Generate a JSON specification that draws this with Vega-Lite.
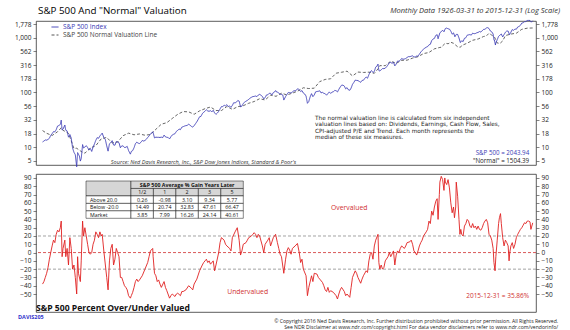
{
"$schema": "https://vega.github.io/schema/vega-lite/v6.json",
"background": "white",
"padding": {"left": 14, "top": 5, "right": 5, "bottom": 2},
"bounds": "flush",
"spacing": 9,
"config": {
 "font": "Open Sans",
 "view": {"stroke": "#333333", "strokeWidth": 0.8},
 "axis": {"labelFont": "Open Sans", "labelFontSize": 6.5, "labelColor": "#222222", "tickColor": "#333333", "tickWidth": 0.6, "domain": false, "grid": false},
 "text": {"font": "Open Sans"}
},
"resolve": {"scale": {"x": "independent", "y": "independent", "color": "independent", "strokeDash": "independent"}},
"vconcat": [
 {
  "width": 500, "height": 144,
  "resolve": {"axis": {"y": "independent"}},
  "layer": [
   {"data": {"name": "top"}, "transform": [{"filter": "datum.s == 'n'"}],
    "mark": {"type": "line", "strokeWidth": 0.9},
    "encoding": {
     "x": {"field": "t", "type": "quantitative", "scale": {"domain": [1925.05, 2016.6], "nice": false, "zero": false},
       "axis": {"title": null, "values": [1926,1927,1928,1929,1930,1931,1932,1933,1934,1935,1936,1937,1938,1939,1940,1941,1942,1943,1944,1945,1946,1947,1948,1949,1950,1951,1952,1953,1954,1955,1956,1957,1958,1959,1960,1961,1962,1963,1964,1965,1966,1967,1968,1969,1970,1971,1972,1973,1974,1975,1976,1977,1978,1979,1980,1981,1982,1983,1984,1985,1986,1987,1988,1989,1990,1991,1992,1993,1994,1995,1996,1997,1998,1999,2000,2001,2002,2003,2004,2005,2006,2007,2008,2009,2010,2011,2012,2013,2014,2015,2016],
        "labelExpr": "datum.value % 5 == 0 ? format(datum.value, 'd') : ''", "tickSize": 2, "labelPadding": 0, "labelOverlap": false, "labelFlush": false}},
     "y": {"field": "v", "type": "quantitative", "scale": {"type": "log", "domain": [4.75, 2017], "nice": false},
       "axis": {"orient": "left", "title": null, "values": [5.623, 10, 17.78, 31.62, 56.23, 100, 177.8, 316.2, 562.3, 1000, 1778], "labelExpr": "datum.value < 6 ? '5' : format(datum.value, ',.0f')", "tickSize": 3, "labelPadding": 2}},
     "color": {"field": "s", "type": "nominal", "scale": {"domain": ["i", "n"], "range": ["#3b3bb5", "#555555"]},
       "legend": {"title": null, "orient": "none", "legendX": 15, "legendY": 2, "symbolType": "stroke", "symbolSize": 49, "symbolStrokeWidth": 1, "labelFontSize": 6.5, "labelFont": "Open Sans", "rowPadding": 0, "padding": 0, "labelOffset": 4, "labelExpr": "datum.value == 'i' ? 'S&P 500 Index' : 'S&P 500 Normal Valuation Line'", "encode": {"labels": {"update": {"fill": {"signal": "datum.value == 'i' ? '#3b3bb5' : '#444444'"}}}}}},
     "strokeDash": {"field": "s", "type": "nominal", "scale": {"domain": ["i", "n"], "range": [[1, 0], [3, 2]]},
       "legend": {"title": null, "orient": "none", "legendX": 15, "legendY": 2, "symbolType": "stroke", "symbolSize": 49, "symbolStrokeWidth": 1, "labelFontSize": 6.5, "labelFont": "Open Sans", "rowPadding": 0, "padding": 0, "labelOffset": 4, "labelExpr": "datum.value == 'i' ? 'S&P 500 Index' : 'S&P 500 Normal Valuation Line'", "encode": {"labels": {"update": {"fill": {"signal": "datum.value == 'i' ? '#3b3bb5' : '#444444'"}}}}}}
    }},
   {"data": {"name": "top"}, "transform": [{"filter": "datum.s == 'i'"}],
    "mark": {"type": "line", "strokeWidth": 0.9},
    "encoding": {
     "x": {"field": "t", "type": "quantitative", "scale": {"domain": [1925.05, 2016.6], "nice": false, "zero": false}, "axis": null},
     "y": {"field": "v", "type": "quantitative", "scale": {"type": "log", "domain": [4.75, 2017], "nice": false},
       "axis": {"orient": "right", "title": null, "values": [5.623, 10, 17.78, 31.62, 56.23, 100, 177.8, 316.2, 562.3, 1000, 1778], "labelExpr": "datum.value < 6 ? '5' : format(datum.value, ',.0f')", "tickSize": 3, "labelPadding": 2}},
     "color": {"field": "s", "type": "nominal", "scale": {"domain": ["i", "n"], "range": ["#3b3bb5", "#555555"]}},
     "strokeDash": {"field": "s", "type": "nominal", "scale": {"domain": ["i", "n"], "range": [[1, 0], [3, 2]]}}
    }},
   {"data": {"values": [{}]}, "mark": {"type": "text", "align": "left", "baseline": "middle", "fontSize": 9.8, "color": "#000000"},
    "encoding": {"x": {"datum": 1925.42, "type": "quantitative", "axis": null}, "y": {"datum": 3070, "type": "quantitative", "axis": null}, "text": {"value": "S&P 500 And \"Normal\" Valuation"}}},
   {"data": {"values": [{}]}, "mark": {"type": "text", "align": "right", "baseline": "middle", "fontSize": 7.5, "fontStyle": "italic", "color": "#333333"},
    "encoding": {"x": {"datum": 2021.0, "type": "quantitative", "axis": null}, "y": {"datum": 3070, "type": "quantitative", "axis": null}, "text": {"value": "Monthly Data 1926-03-31 to 2015-12-31 (Log Scale)"}}},
   {"data": {"values": [{}]}, "mark": {"type": "text", "align": "right", "baseline": "middle", "fontSize": 5.6, "fontStyle": "italic", "color": "#333333"},
    "encoding": {"x": {"datum": 1972.67, "type": "quantitative", "axis": null}, "y": {"datum": 5.5, "type": "quantitative", "axis": null}, "text": {"value": "Source: Ned Davis Research, Inc., S&P Dow Jones Indices, Standard & Poor's"}}},
   {"data": {"values": [{}]}, "mark": {"type": "text", "align": "left", "baseline": "top", "font": "DejaVu Sans", "fontSize": 5.75, "lineHeight": 6.2, "color": "#222222"},
    "encoding": {"x": {"datum": 1976.15, "type": "quantitative", "axis": null}, "y": {"datum": 38.4, "type": "quantitative", "axis": null}, "text": {"value": ["The normal valuation line is calculated  from six independent", "valuation lines based on: Dividends, Earnings, Cash Flow, Sales,", "CPI-adjusted P/E  and  Trend.  Each  month  represents  the", "median of these six measures."]}}},
   {"data": {"values": [{}]}, "mark": {"type": "text", "align": "right", "baseline": "middle", "fontSize": 6.2, "color": "#3b3bb5"},
    "encoding": {"x": {"datum": 2015.35, "type": "quantitative", "axis": null}, "y": {"datum": 7.71, "type": "quantitative", "axis": null}, "text": {"value": "S&P 500 = 2043.94"}}},
   {"data": {"values": [{}]}, "mark": {"type": "text", "align": "right", "baseline": "middle", "fontSize": 6.2, "color": "#222222"},
    "encoding": {"x": {"datum": 2015.35, "type": "quantitative", "axis": null}, "y": {"datum": 5.6, "type": "quantitative", "axis": null}, "text": {"value": "\"Normal\" = 1504.39"}}}
  ]
 },
 {
  "width": 500, "height": 138,
  "resolve": {"scale": {"x": "independent", "y": "independent"}},
  "layer": [
   {"resolve": {"axis": {"y": "independent"}},
    "layer": [
     {"data": {"name": "lvl"}, "mark": {"type": "rule", "strokeDash": [3, 2], "strokeWidth": 0.8},
      "encoding": {
       "y": {"field": "v", "type": "quantitative", "scale": {"domain": [-71.7, 94.8], "nice": false, "zero": false},
         "axis": {"orient": "left", "title": null, "values": [-50,-40,-30,-20,-10,0,10,20,30,40,50,60,70,80,90], "tickSize": 3, "labelPadding": 2}},
       "stroke": {"condition": {"test": "datum.z == 1", "value": "#d03030"}, "value": "#8c8c8c"}
      }},
     {"data": {"name": "pct"}, "mark": {"type": "line", "color": "#e02020", "strokeWidth": 0.9},
      "encoding": {
       "x": {"field": "t", "type": "quantitative", "scale": {"domain": [1925.05, 2016.6], "nice": false, "zero": false}, "axis": null},
       "y": {"field": "v", "type": "quantitative", "scale": {"domain": [-71.7, 94.8], "nice": false, "zero": false},
         "axis": {"orient": "right", "title": null, "values": [-50,-40,-30,-20,-10,0,10,20,30,40,50,60,70,80,90], "tickSize": 3, "labelPadding": 2}}
      }},
     {"data": {"values": [{}]}, "mark": {"type": "text", "align": "left", "baseline": "middle", "fontSize": 8.6, "fontWeight": "bold", "color": "#111111"},
      "encoding": {"x": {"datum": 1925.05, "type": "quantitative", "axis": null}, "y": {"datum": -66.9, "type": "quantitative", "axis": null}, "text": {"value": "S&P 500 Percent Over/Under Valued"}}},
     {"data": {"values": [{}]}, "mark": {"type": "text", "align": "center", "baseline": "middle", "fontSize": 6.8, "color": "#d03030"},
      "encoding": {"x": {"datum": 1982.4, "type": "quantitative", "axis": null}, "y": {"datum": 53.8, "type": "quantitative", "axis": null}, "text": {"value": "Overvalued"}}},
     {"data": {"values": [{}]}, "mark": {"type": "text", "align": "center", "baseline": "middle", "fontSize": 6.8, "color": "#d03030"},
      "encoding": {"x": {"datum": 1963.8, "type": "quantitative", "axis": null}, "y": {"datum": -47.2, "type": "quantitative", "axis": null}, "text": {"value": "Undervalued"}}},
     {"data": {"values": [{}]}, "mark": {"type": "text", "align": "right", "baseline": "middle", "fontSize": 6.5, "color": "#d03030"},
      "encoding": {"x": {"datum": 2015.35, "type": "quantitative", "axis": null}, "y": {"datum": -52.4, "type": "quantitative", "axis": null}, "text": {"value": "2015-12-31 = 35.86%"}}},
     {"data": {"values": [{}]}, "mark": {"type": "text", "align": "left", "baseline": "middle", "fontSize": 5.5, "fontWeight": "bold", "color": "#3333cc"},
      "encoding": {"x": {"datum": 1921.76, "type": "quantitative", "axis": null}, "y": {"datum": -77.7, "type": "quantitative", "axis": null}, "text": {"value": "DAVIS205"}}},
     {"data": {"values": [{}]}, "mark": {"type": "text", "align": "right", "baseline": "middle", "fontSize": 5.1, "color": "#222222"},
      "encoding": {"x": {"datum": 2020.66, "type": "quantitative", "axis": null}, "y": {"datum": -82.4, "type": "quantitative", "axis": null}, "text": {"value": "© Copyright 2016 Ned Davis Research, Inc. Further distribution prohibited without prior permission. All Rights Reserved."}}},
     {"data": {"values": [{}]}, "mark": {"type": "text", "align": "right", "baseline": "middle", "fontSize": 5.1, "color": "#222222"},
      "encoding": {"x": {"datum": 2020.66, "type": "quantitative", "axis": null}, "y": {"datum": -89.4, "type": "quantitative", "axis": null}, "text": {"value": "See NDR Disclaimer at www.ndr.com/copyright.html   For data vendor disclaimers refer to www.ndr.com/vendorinfo/"}}}
    ]},
   {"layer": [
     {"data": {"name": "tbl"}, "mark": {"type": "rect", "stroke": "#111111", "strokeWidth": 0.5},
      "encoding": {
       "x": {"field": "c0", "type": "quantitative", "scale": {"domain": [0, 7], "range": [50, 207.3], "nice": false, "zero": false}, "axis": null},
       "x2": {"field": "c1"},
       "y": {"field": "r0", "type": "quantitative", "scale": {"domain": [0, 5], "range": [7, 44.3], "nice": false, "zero": false}, "axis": null},
       "y2": {"field": "r1"},
       "fill": {"condition": {"test": "datum.h == 1", "value": "#d6d6d6"}, "value": "#ffffff"}
      }},
     {"data": {"name": "tbl"}, "transform": [{"filter": "datum.k == 'num'"}, {"calculate": "(datum.c0 + datum.c1) / 2", "as": "cx"}, {"calculate": "(datum.r0 + datum.r1) / 2", "as": "cy"}],
      "mark": {"type": "text", "align": "center", "baseline": "middle", "fontSize": 5.3, "color": "#111111"},
      "encoding": {
       "x": {"field": "cx", "type": "quantitative", "scale": {"domain": [0, 7], "range": [50, 207.3], "nice": false, "zero": false}, "axis": null},
       "y": {"field": "cy", "type": "quantitative", "scale": {"domain": [0, 5], "range": [7, 44.3], "nice": false, "zero": false}, "axis": null},
       "text": {"field": "txt"}
      }},
     {"data": {"name": "tbl"}, "transform": [{"filter": "datum.k == 'hdr'"}, {"calculate": "(datum.c0 + datum.c1) / 2", "as": "cx"}, {"calculate": "(datum.r0 + datum.r1) / 2", "as": "cy"}],
      "mark": {"type": "text", "align": "center", "baseline": "middle", "fontSize": 5.3, "fontWeight": "bold", "color": "#111111"},
      "encoding": {
       "x": {"field": "cx", "type": "quantitative", "scale": {"domain": [0, 7], "range": [50, 207.3], "nice": false, "zero": false}, "axis": null},
       "y": {"field": "cy", "type": "quantitative", "scale": {"domain": [0, 5], "range": [7, 44.3], "nice": false, "zero": false}, "axis": null},
       "text": {"field": "txt"}
      }},
     {"data": {"name": "tbl"}, "transform": [{"filter": "datum.k == 'lab'"}, {"calculate": "(datum.r0 + datum.r1) / 2", "as": "cy"}],
      "mark": {"type": "text", "align": "left", "baseline": "middle", "fontSize": 5.3, "dx": 4, "color": "#111111"},
      "encoding": {
       "x": {"field": "c0", "type": "quantitative", "scale": {"domain": [0, 7], "range": [50, 207.3], "nice": false, "zero": false}, "axis": null},
       "y": {"field": "cy", "type": "quantitative", "scale": {"domain": [0, 5], "range": [7, 44.3], "nice": false, "zero": false}, "axis": null},
       "text": {"field": "txt"}
      }}
   ]}
  ]
 }
],
"datasets": {
 "lvl": [{"v": 20, "z": 0}, {"v": -20, "z": 0}, {"v": 0, "z": 1}],
 "tbl": [
  {"c0":0,"c1":2,"r0":0,"r1":2,"txt":"","h":1,"k":"num"},
  {"c0":2,"c1":7,"r0":0,"r1":1,"txt":"S&P 500 Average % Gain Years Later","h":1,"k":"hdr"},
  {"c0":2,"c1":3,"r0":1,"r1":2,"txt":"1/2","h":1,"k":"num"},
  {"c0":3,"c1":4,"r0":1,"r1":2,"txt":"1","h":1,"k":"num"},
  {"c0":4,"c1":5,"r0":1,"r1":2,"txt":"2","h":1,"k":"num"},
  {"c0":5,"c1":6,"r0":1,"r1":2,"txt":"3","h":1,"k":"num"},
  {"c0":6,"c1":7,"r0":1,"r1":2,"txt":"5","h":1,"k":"num"},
  {"c0":0,"c1":2,"r0":2,"r1":3,"txt":"Above 20.0","h":0,"k":"lab"},
  {"c0":2,"c1":3,"r0":2,"r1":3,"txt":"0.26","h":0,"k":"num"},
  {"c0":3,"c1":4,"r0":2,"r1":3,"txt":"-0.98","h":0,"k":"num"},
  {"c0":4,"c1":5,"r0":2,"r1":3,"txt":"3.10","h":0,"k":"num"},
  {"c0":5,"c1":6,"r0":2,"r1":3,"txt":"9.34","h":0,"k":"num"},
  {"c0":6,"c1":7,"r0":2,"r1":3,"txt":"5.77","h":0,"k":"num"},
  {"c0":0,"c1":2,"r0":3,"r1":4,"txt":"Below -20.0","h":0,"k":"lab"},
  {"c0":2,"c1":3,"r0":3,"r1":4,"txt":"14.49","h":0,"k":"num"},
  {"c0":3,"c1":4,"r0":3,"r1":4,"txt":"20.74","h":0,"k":"num"},
  {"c0":4,"c1":5,"r0":3,"r1":4,"txt":"32.83","h":0,"k":"num"},
  {"c0":5,"c1":6,"r0":3,"r1":4,"txt":"47.61","h":0,"k":"num"},
  {"c0":6,"c1":7,"r0":3,"r1":4,"txt":"66.47","h":0,"k":"num"},
  {"c0":0,"c1":2,"r0":4,"r1":5,"txt":"Market","h":0,"k":"lab"},
  {"c0":2,"c1":3,"r0":4,"r1":5,"txt":"3.85","h":0,"k":"num"},
  {"c0":3,"c1":4,"r0":4,"r1":5,"txt":"7.99","h":0,"k":"num"},
  {"c0":4,"c1":5,"r0":4,"r1":5,"txt":"16.26","h":0,"k":"num"},
  {"c0":5,"c1":6,"r0":4,"r1":5,"txt":"24.14","h":0,"k":"num"},
  {"c0":6,"c1":7,"r0":4,"r1":5,"txt":"40.61","h":0,"k":"num"}
 ],
 "pct": [
  {"t":1926.25,"v":-38},{"t":1926.5,"v":-35},{"t":1926.75,"v":-30},{"t":1927.0,"v":-25},{"t":1927.25,"v":-18},{"t":1927.5,"v":-8},{"t":1927.75,"v":0},{"t":1928.0,"v":8},{"t":1928.25,"v":15},{"t":1928.5,"v":12},{"t":1928.75,"v":22},{"t":1929.0,"v":27},{"t":1929.25,"v":25},{"t":1929.5,"v":30},{"t":1929.67,"v":38},{"t":1929.83,"v":-5},{"t":1930.0,"v":5},{"t":1930.33,"v":15},{"t":1930.5,"v":-5},{"t":1930.75,"v":5},{"t":1931.0,"v":-15},{"t":1931.25,"v":18},{"t":1931.5,"v":5},{"t":1931.75,"v":-20},{"t":1932.0,"v":-15},{"t":1932.25,"v":-30},{"t":1932.5,"v":-50},{"t":1932.67,"v":-5},{"t":1932.83,"v":-25},{"t":1933.17,"v":-35},{"t":1933.33,"v":-10},{"t":1933.58,"v":38},{"t":1933.75,"v":20},{"t":1934.0,"v":30},{"t":1934.25,"v":20},{"t":1934.5,"v":10},{"t":1934.75,"v":0},{"t":1935.0,"v":-2},{"t":1935.25,"v":0},{"t":1935.5,"v":10},{"t":1935.75,"v":15},{"t":1936.0,"v":25},{"t":1936.25,"v":22},{"t":1936.5,"v":18},{"t":1936.75,"v":25},{"t":1937.0,"v":20},{"t":1937.17,"v":22},{"t":1937.5,"v":0},{"t":1937.75,"v":-15},{"t":1938.0,"v":-30},{"t":1938.25,"v":-45},{"t":1938.5,"v":-10},{"t":1938.75,"v":5},{"t":1939.0,"v":10},{"t":1939.25,"v":-15},{"t":1939.5,"v":-8},{"t":1939.75,"v":5},{"t":1940.0,"v":0},{"t":1940.25,"v":-5},{"t":1940.5,"v":-30},{"t":1940.75,"v":-30},{"t":1941.0,"v":-35},{"t":1941.25,"v":-40},{"t":1941.5,"v":-42},{"t":1941.75,"v":-45},{"t":1942.0,"v":-52},{"t":1942.33,"v":-55},{"t":1942.5,"v":-52},{"t":1942.75,"v":-48},{"t":1943.0,"v":-42},{"t":1943.25,"v":-35},{"t":1943.5,"v":-32},{"t":1943.75,"v":-35},{"t":1944.0,"v":-33},{"t":1944.5,"v":-28},{"t":1945.0,"v":-20},{"t":1945.5,"v":-12},{"t":1945.75,"v":-5},{"t":1946.0,"v":2},{"t":1946.42,"v":5},{"t":1946.5,"v":-5},{"t":1946.75,"v":-25},{"t":1947.0,"v":-28},{"t":1947.25,"v":-35},{"t":1947.5,"v":-33},{"t":1947.75,"v":-38},{"t":1948.0,"v":-42},{"t":1948.5,"v":-35},{"t":1948.75,"v":-42},{"t":1949.0,"v":-46},{"t":1949.5,"v":-55},{"t":1949.75,"v":-52},{"t":1950.0,"v":-50},{"t":1950.5,"v":-53},{"t":1950.75,"v":-50},{"t":1951.0,"v":-49},{"t":1951.5,"v":-52},{"t":1951.75,"v":-47},{"t":1952.0,"v":-47},{"t":1952.5,"v":-45},{"t":1953.0,"v":-40},{"t":1953.5,"v":-43},{"t":1953.75,"v":-45},{"t":1954.0,"v":-38},{"t":1954.5,"v":-32},{"t":1955.0,"v":-22},{"t":1955.5,"v":-15},{"t":1955.75,"v":-12},{"t":1956.0,"v":-10},{"t":1956.25,"v":-8},{"t":1956.5,"v":-12},{"t":1956.75,"v":-10},{"t":1957.0,"v":-14},{"t":1957.5,"v":-10},{"t":1957.75,"v":-22},{"t":1958.0,"v":-15},{"t":1958.5,"v":0},{"t":1958.75,"v":12},{"t":1959.0,"v":18},{"t":1959.5,"v":15},{"t":1959.75,"v":10},{"t":1960.0,"v":8},{"t":1960.5,"v":5},{"t":1960.75,"v":2},{"t":1961.0,"v":18},{"t":1961.5,"v":25},{"t":1961.9,"v":30},{"t":1962.25,"v":15},{"t":1962.5,"v":-3},{"t":1962.75,"v":2},{"t":1963.0,"v":10},{"t":1963.5,"v":12},{"t":1963.75,"v":15},{"t":1964.0,"v":18},{"t":1964.5,"v":20},{"t":1964.75,"v":22},{"t":1965.0,"v":24},{"t":1965.25,"v":22},{"t":1965.5,"v":18},{"t":1965.75,"v":22},{"t":1966.0,"v":20},{"t":1966.5,"v":8},{"t":1966.75,"v":0},{"t":1967.0,"v":10},{"t":1967.5,"v":15},{"t":1967.75,"v":18},{"t":1968.0,"v":8},{"t":1968.5,"v":18},{"t":1968.92,"v":22},{"t":1969.25,"v":12},{"t":1969.5,"v":5},{"t":1969.75,"v":-2},{"t":1970.0,"v":-5},{"t":1970.42,"v":-25},{"t":1970.75,"v":-8},{"t":1971.0,"v":2},{"t":1971.25,"v":6},{"t":1971.5,"v":3},{"t":1971.75,"v":-2},{"t":1972.0,"v":5},{"t":1972.5,"v":8},{"t":1972.92,"v":11},{"t":1973.25,"v":0},{"t":1973.5,"v":-12},{"t":1973.75,"v":-8},{"t":1974.0,"v":-20},{"t":1974.5,"v":-28},{"t":1974.75,"v":-52},{"t":1975.0,"v":-42},{"t":1975.5,"v":-28},{"t":1975.75,"v":-35},{"t":1976.0,"v":-25},{"t":1976.5,"v":-26},{"t":1976.75,"v":-30},{"t":1977.0,"v":-32},{"t":1977.5,"v":-36},{"t":1977.75,"v":-40},{"t":1978.0,"v":-45},{"t":1978.25,"v":-47},{"t":1978.5,"v":-42},{"t":1978.75,"v":-48},{"t":1979.0,"v":-46},{"t":1979.5,"v":-48},{"t":1979.75,"v":-50},{"t":1980.0,"v":-52},{"t":1980.25,"v":-56},{"t":1980.5,"v":-50},{"t":1980.75,"v":-45},{"t":1981.0,"v":-42},{"t":1981.5,"v":-47},{"t":1981.75,"v":-52},{"t":1982.0,"v":-50},{"t":1982.5,"v":-54},{"t":1982.75,"v":-42},{"t":1983.0,"v":-30},{"t":1983.5,"v":-22},{"t":1983.75,"v":-25},{"t":1984.0,"v":-30},{"t":1984.5,"v":-37},{"t":1984.75,"v":-32},{"t":1985.0,"v":-28},{"t":1985.5,"v":-22},{"t":1985.75,"v":-24},{"t":1986.0,"v":-10},{"t":1986.25,"v":-2},{"t":1986.5,"v":0},{"t":1986.75,"v":-8},{"t":1987.0,"v":8},{"t":1987.25,"v":15},{"t":1987.67,"v":22},{"t":1987.83,"v":-12},{"t":1988.0,"v":-20},{"t":1988.25,"v":-15},{"t":1988.5,"v":-20},{"t":1988.75,"v":-18},{"t":1989.0,"v":-10},{"t":1989.5,"v":-5},{"t":1989.75,"v":0},{"t":1990.0,"v":-5},{"t":1990.5,"v":2},{"t":1990.75,"v":-15},{"t":1991.0,"v":-3},{"t":1991.25,"v":2},{"t":1991.5,"v":0},{"t":1991.75,"v":5},{"t":1992.0,"v":8},{"t":1992.5,"v":5},{"t":1992.75,"v":8},{"t":1993.0,"v":12},{"t":1993.5,"v":13},{"t":1993.75,"v":15},{"t":1994.0,"v":10},{"t":1994.25,"v":2},{"t":1994.5,"v":0},{"t":1994.75,"v":-3},{"t":1995.0,"v":2},{"t":1995.25,"v":8},{"t":1995.5,"v":12},{"t":1995.75,"v":15},{"t":1996.0,"v":20},{"t":1996.5,"v":25},{"t":1996.75,"v":28},{"t":1997.0,"v":38},{"t":1997.25,"v":35},{"t":1997.5,"v":50},{"t":1997.75,"v":45},{"t":1998.0,"v":55},{"t":1998.25,"v":62},{"t":1998.5,"v":65},{"t":1998.67,"v":40},{"t":1998.9,"v":70},{"t":1999.0,"v":85},{"t":1999.25,"v":92},{"t":1999.5,"v":88},{"t":1999.75,"v":75},{"t":1999.9,"v":90},{"t":2000.0,"v":85},{"t":2000.25,"v":82},{"t":2000.5,"v":88},{"t":2000.75,"v":78},{"t":2001.0,"v":60},{"t":2001.25,"v":48},{"t":2001.5,"v":55},{"t":2001.67,"v":42},{"t":2001.9,"v":55},{"t":2002.0,"v":85},{"t":2002.25,"v":68},{"t":2002.5,"v":40},{"t":2002.67,"v":22},{"t":2002.83,"v":28},{"t":2003.0,"v":22},{"t":2003.25,"v":20},{"t":2003.5,"v":32},{"t":2003.75,"v":35},{"t":2004.0,"v":40},{"t":2004.25,"v":38},{"t":2004.5,"v":32},{"t":2004.75,"v":30},{"t":2005.0,"v":35},{"t":2005.25,"v":30},{"t":2005.5,"v":32},{"t":2005.75,"v":28},{"t":2006.0,"v":32},{"t":2006.25,"v":28},{"t":2006.5,"v":27},{"t":2006.75,"v":30},{"t":2007.0,"v":35},{"t":2007.25,"v":38},{"t":2007.5,"v":40},{"t":2007.75,"v":36},{"t":2008.0,"v":22},{"t":2008.25,"v":20},{"t":2008.5,"v":15},{"t":2008.75,"v":5},{"t":2008.9,"v":-12},{"t":2009.1,"v":-22},{"t":2009.25,"v":-5},{"t":2009.5,"v":15},{"t":2009.75,"v":35},{"t":2009.9,"v":42},{"t":2010.1,"v":47},{"t":2010.25,"v":35},{"t":2010.5,"v":18},{"t":2010.75,"v":8},{"t":2011.0,"v":15},{"t":2011.25,"v":12},{"t":2011.5,"v":8},{"t":2011.67,"v":-10},{"t":2011.8,"v":0},{"t":2012.0,"v":8},{"t":2012.25,"v":12},{"t":2012.5,"v":5},{"t":2012.75,"v":10},{"t":2013.0,"v":18},{"t":2013.25,"v":22},{"t":2013.5,"v":25},{"t":2013.75,"v":28},{"t":2014.0,"v":30},{"t":2014.25,"v":33},{"t":2014.5,"v":36},{"t":2014.75,"v":35},{"t":2015.0,"v":38},{"t":2015.25,"v":38},{"t":2015.5,"v":37},{"t":2015.67,"v":28},{"t":2016.0,"v":35.86}
 ],
 "top": [
  {"t":1926.25,"s":"i","v":12.5},{"t":1926.5,"s":"i","v":13.0},{"t":1926.75,"s":"i","v":13.6},{"t":1927.0,"s":"i","v":13.5},
  {"t":1927.25,"s":"i","v":13.9},{"t":1927.5,"s":"i","v":14.6},{"t":1927.75,"s":"i","v":16.5},{"t":1928.0,"s":"i","v":17.7},
  {"t":1928.25,"s":"i","v":19.3},{"t":1928.5,"s":"i","v":19.1},{"t":1928.75,"s":"i","v":21.0},{"t":1929.0,"s":"i","v":24.4},
  {"t":1929.25,"s":"i","v":25.0},{"t":1929.5,"s":"i","v":26.1},{"t":1929.67,"s":"i","v":31.3},{"t":1929.83,"s":"i","v":20.6},{"t":1930.0,"s":"i","v":21.4},
  {"t":1930.33,"s":"i","v":25.5},{"t":1930.5,"s":"i","v":20.5},{"t":1930.75,"s":"i","v":19.9},{"t":1931.0,"s":"i","v":15.3},
  {"t":1931.25,"s":"i","v":17.1},{"t":1931.5,"s":"i","v":14.7},{"t":1931.75,"s":"i","v":9.7},{"t":1932.0,"s":"i","v":8.1},
  {"t":1932.25,"s":"i","v":7.3},{"t":1932.5,"s":"i","v":4.4},{"t":1932.67,"s":"i","v":8.0},{"t":1933.0,"s":"i","v":6.9},
  {"t":1933.17,"s":"i","v":5.6},{"t":1933.33,"s":"i","v":6.2},{"t":1933.58,"s":"i","v":11.2},{"t":1933.75,"s":"i","v":9.7},{"t":1934.0,"s":"i","v":10.1},
  {"t":1934.25,"s":"i","v":10.7},{"t":1934.5,"s":"i","v":9.9},{"t":1934.75,"s":"i","v":8.9},{"t":1935.0,"s":"i","v":9.5},
  {"t":1935.25,"s":"i","v":8.4},{"t":1935.5,"s":"i","v":10.1},{"t":1935.75,"s":"i","v":11.5},{"t":1936.0,"s":"i","v":13.4},
  {"t":1936.25,"s":"i","v":15.0},{"t":1936.5,"s":"i","v":14.6},{"t":1936.75,"s":"i","v":16.1},{"t":1937.0,"s":"i","v":17.2},
  {"t":1937.17,"s":"i","v":18.1},{"t":1937.5,"s":"i","v":14.8},{"t":1937.75,"s":"i","v":13.8},{"t":1938.0,"s":"i","v":10.6},
  {"t":1938.25,"s":"i","v":8.5},{"t":1938.5,"s":"i","v":11.6},{"t":1938.75,"s":"i","v":12.2},{"t":1939.0,"s":"i","v":13.2},
  {"t":1939.25,"s":"i","v":11.0},{"t":1939.5,"s":"i","v":10.9},{"t":1939.75,"s":"i","v":12.7},{"t":1940.0,"s":"i","v":12.5},
  {"t":1940.25,"s":"i","v":12.1},{"t":1940.5,"s":"i","v":9.8},{"t":1940.75,"s":"i","v":10.6},{"t":1941.0,"s":"i","v":10.6},
  {"t":1941.25,"s":"i","v":9.9},{"t":1941.5,"s":"i","v":10.0},{"t":1941.75,"s":"i","v":10.4},{"t":1942.0,"s":"i","v":8.7},
  {"t":1942.33,"s":"i","v":7.5},{"t":1942.5,"s":"i","v":8.4},{"t":1942.75,"s":"i","v":8.7},{"t":1943.0,"s":"i","v":9.8},
  {"t":1943.25,"s":"i","v":11.6},{"t":1943.5,"s":"i","v":12.4},{"t":1943.75,"s":"i","v":11.9},{"t":1944.0,"s":"i","v":11.7},
  {"t":1944.25,"s":"i","v":12.3},{"t":1944.5,"s":"i","v":13.3},{"t":1944.75,"s":"i","v":13.0},{"t":1945.0,"s":"i","v":13.3},
  {"t":1945.25,"s":"i","v":14.0},{"t":1945.5,"s":"i","v":15.1},{"t":1945.75,"s":"i","v":16.1},{"t":1946.0,"s":"i","v":17.4},
  {"t":1946.42,"s":"i","v":19.2},{"t":1946.5,"s":"i","v":18.4},{"t":1946.75,"s":"i","v":14.8},{"t":1947.0,"s":"i","v":15.3},
  {"t":1947.25,"s":"i","v":15.2},{"t":1947.5,"s":"i","v":15.2},{"t":1947.75,"s":"i","v":15.1},{"t":1948.0,"s":"i","v":15.3},
  {"t":1948.25,"s":"i","v":15.0},{"t":1948.5,"s":"i","v":16.7},{"t":1948.75,"s":"i","v":15.5},{"t":1949.0,"s":"i","v":15.2},
  {"t":1949.25,"s":"i","v":15.1},{"t":1949.5,"s":"i","v":14.2},{"t":1949.75,"s":"i","v":15.6},{"t":1950.0,"s":"i","v":16.8},
  {"t":1950.25,"s":"i","v":17.3},{"t":1950.5,"s":"i","v":17.7},{"t":1950.75,"s":"i","v":19.5},{"t":1951.0,"s":"i","v":20.4},
  {"t":1951.25,"s":"i","v":21.5},{"t":1951.5,"s":"i","v":21.0},{"t":1951.75,"s":"i","v":23.3},{"t":1952.0,"s":"i","v":23.8},
  {"t":1952.25,"s":"i","v":24.4},{"t":1952.5,"s":"i","v":24.9},{"t":1952.75,"s":"i","v":25.0},{"t":1953.0,"s":"i","v":26.6},
  {"t":1953.25,"s":"i","v":25.3},{"t":1953.5,"s":"i","v":24.1},{"t":1953.75,"s":"i","v":23.3},{"t":1954.0,"s":"i","v":24.8},
  {"t":1954.25,"s":"i","v":26.9},{"t":1954.5,"s":"i","v":29.2},{"t":1954.75,"s":"i","v":32.3},{"t":1955.0,"s":"i","v":36.0},
  {"t":1955.25,"s":"i","v":36.6},{"t":1955.5,"s":"i","v":41.0},{"t":1955.75,"s":"i","v":43.7},{"t":1956.0,"s":"i","v":45.5},
  {"t":1956.25,"s":"i","v":48.5},{"t":1956.5,"s":"i","v":46.0},{"t":1956.75,"s":"i","v":45.4},{"t":1957.0,"s":"i","v":46.7},
  {"t":1957.25,"s":"i","v":44.1},{"t":1957.5,"s":"i","v":47.4},{"t":1957.75,"s":"i","v":42.4},{"t":1958.0,"s":"i","v":39.9},
  {"t":1958.25,"s":"i","v":42.1},{"t":1958.5,"s":"i","v":45.2},{"t":1958.75,"s":"i","v":50.1},{"t":1959.0,"s":"i","v":55.2},
  {"t":1959.25,"s":"i","v":55.4},{"t":1959.5,"s":"i","v":58.5},{"t":1959.75,"s":"i","v":56.9},{"t":1960.0,"s":"i","v":59.9},
  {"t":1960.25,"s":"i","v":55.3},{"t":1960.5,"s":"i","v":56.9},{"t":1960.75,"s":"i","v":53.5},{"t":1961.0,"s":"i","v":58.1},
  {"t":1961.25,"s":"i","v":65.1},{"t":1961.5,"s":"i","v":64.6},{"t":1961.75,"s":"i","v":66.7},{"t":1962.0,"s":"i","v":71.6},
  {"t":1962.25,"s":"i","v":69.6},{"t":1962.5,"s":"i","v":54.8},{"t":1962.75,"s":"i","v":56.3},{"t":1963.0,"s":"i","v":63.1},
  {"t":1963.25,"s":"i","v":66.6},{"t":1963.5,"s":"i","v":69.4},{"t":1963.75,"s":"i","v":71.7},{"t":1964.0,"s":"i","v":75.0},
  {"t":1964.25,"s":"i","v":78.9},{"t":1964.5,"s":"i","v":81.7},{"t":1964.75,"s":"i","v":84.2},{"t":1965.0,"s":"i","v":84.8},
  {"t":1965.25,"s":"i","v":86.2},{"t":1965.5,"s":"i","v":84.1},{"t":1965.75,"s":"i","v":89.9},{"t":1966.0,"s":"i","v":92.4},
  {"t":1966.25,"s":"i","v":89.2},{"t":1966.5,"s":"i","v":84.7},{"t":1966.75,"s":"i","v":76.6},{"t":1967.0,"s":"i","v":80.3},
  {"t":1967.25,"s":"i","v":90.2},{"t":1967.5,"s":"i","v":90.6},{"t":1967.75,"s":"i","v":96.7},{"t":1968.0,"s":"i","v":96.5},
  {"t":1968.25,"s":"i","v":90.2},{"t":1968.5,"s":"i","v":99.6},{"t":1968.75,"s":"i","v":102.7},{"t":1968.92,"s":"i","v":108.4},{"t":1969.0,"s":"i","v":103.9},
  {"t":1969.25,"s":"i","v":101.5},{"t":1969.5,"s":"i","v":97.7},{"t":1969.75,"s":"i","v":93.1},{"t":1970.0,"s":"i","v":92.1},
  {"t":1970.25,"s":"i","v":89.6},{"t":1970.42,"s":"i","v":72.7},{"t":1970.75,"s":"i","v":84.3},{"t":1971.0,"s":"i","v":92.2},
  {"t":1971.25,"s":"i","v":100.3},{"t":1971.5,"s":"i","v":99.0},{"t":1971.75,"s":"i","v":98.3},{"t":1972.0,"s":"i","v":102.1},
  {"t":1972.25,"s":"i","v":107.2},{"t":1972.5,"s":"i","v":107.1},{"t":1972.75,"s":"i","v":110.6},{"t":1973.0,"s":"i","v":118.1},
  {"t":1973.25,"s":"i","v":111.5},{"t":1973.5,"s":"i","v":104.3},{"t":1973.75,"s":"i","v":108.4},{"t":1974.0,"s":"i","v":97.6},
  {"t":1974.25,"s":"i","v":93.9},{"t":1974.5,"s":"i","v":86.0},{"t":1974.75,"s":"i","v":63.5},{"t":1975.0,"s":"i","v":68.6},
  {"t":1975.25,"s":"i","v":83.4},{"t":1975.5,"s":"i","v":95.2},{"t":1975.75,"s":"i","v":83.9},{"t":1976.0,"s":"i","v":90.2},
  {"t":1976.25,"s":"i","v":102.8},{"t":1976.5,"s":"i","v":104.3},{"t":1976.75,"s":"i","v":105.2},{"t":1977.0,"s":"i","v":107.5},
  {"t":1977.25,"s":"i","v":98.4},{"t":1977.5,"s":"i","v":100.5},{"t":1977.75,"s":"i","v":96.5},{"t":1978.0,"s":"i","v":95.1},
  {"t":1978.25,"s":"i","v":89.2},{"t":1978.5,"s":"i","v":95.5},{"t":1978.75,"s":"i","v":102.5},{"t":1979.0,"s":"i","v":96.1},
  {"t":1979.25,"s":"i","v":101.6},{"t":1979.5,"s":"i","v":102.9},{"t":1979.75,"s":"i","v":109.3},{"t":1980.0,"s":"i","v":107.9},
  {"t":1980.25,"s":"i","v":102.1},{"t":1980.5,"s":"i","v":114.2},{"t":1980.75,"s":"i","v":125.5},{"t":1981.0,"s":"i","v":135.8},
  {"t":1981.25,"s":"i","v":136.0},{"t":1981.5,"s":"i","v":131.2},{"t":1981.75,"s":"i","v":116.2},{"t":1982.0,"s":"i","v":122.6},
  {"t":1982.25,"s":"i","v":111.9},{"t":1982.5,"s":"i","v":109.6},{"t":1982.75,"s":"i","v":120.4},{"t":1983.0,"s":"i","v":140.6},
  {"t":1983.25,"s":"i","v":152.9},{"t":1983.5,"s":"i","v":168.1},{"t":1983.75,"s":"i","v":166.1},{"t":1984.0,"s":"i","v":164.9},
  {"t":1984.25,"s":"i","v":159.2},{"t":1984.5,"s":"i","v":153.2},{"t":1984.75,"s":"i","v":166.1},{"t":1985.0,"s":"i","v":167.2},
  {"t":1985.25,"s":"i","v":180.7},{"t":1985.5,"s":"i","v":191.9},{"t":1985.75,"s":"i","v":182.1},{"t":1986.0,"s":"i","v":211.3},
  {"t":1986.25,"s":"i","v":238.9},{"t":1986.5,"s":"i","v":250.8},{"t":1986.75,"s":"i","v":231.3},{"t":1987.0,"s":"i","v":242.2},
  {"t":1987.25,"s":"i","v":291.7},{"t":1987.5,"s":"i","v":304.0},{"t":1987.67,"s":"i","v":329.8},{"t":1987.83,"s":"i","v":251.8},{"t":1988.0,"s":"i","v":247.1},
  {"t":1988.25,"s":"i","v":258.9},{"t":1988.5,"s":"i","v":273.5},{"t":1988.75,"s":"i","v":271.9},{"t":1989.0,"s":"i","v":277.7},
  {"t":1989.25,"s":"i","v":294.9},{"t":1989.5,"s":"i","v":317.9},{"t":1989.75,"s":"i","v":349.2},{"t":1990.0,"s":"i","v":353.4},
  {"t":1990.25,"s":"i","v":339.9},{"t":1990.5,"s":"i","v":358.0},{"t":1990.75,"s":"i","v":306.1},{"t":1991.0,"s":"i","v":330.2},
  {"t":1991.25,"s":"i","v":375.2},{"t":1991.5,"s":"i","v":371.2},{"t":1991.75,"s":"i","v":387.9},{"t":1992.0,"s":"i","v":417.1},
  {"t":1992.25,"s":"i","v":403.7},{"t":1992.5,"s":"i","v":408.1},{"t":1992.75,"s":"i","v":417.8},{"t":1993.0,"s":"i","v":435.7},
  {"t":1993.25,"s":"i","v":451.7},{"t":1993.5,"s":"i","v":450.5},{"t":1993.75,"s":"i","v":458.9},{"t":1994.0,"s":"i","v":466.5},
  {"t":1994.25,"s":"i","v":445.8},{"t":1994.5,"s":"i","v":444.3},{"t":1994.75,"s":"i","v":462.7},{"t":1995.0,"s":"i","v":459.3},
  {"t":1995.25,"s":"i","v":500.7},{"t":1995.5,"s":"i","v":544.8},{"t":1995.75,"s":"i","v":584.4},{"t":1996.0,"s":"i","v":615.9},
  {"t":1996.25,"s":"i","v":645.5},{"t":1996.5,"s":"i","v":670.6},{"t":1996.75,"s":"i","v":687.3},{"t":1997.0,"s":"i","v":740.7},
  {"t":1997.25,"s":"i","v":757.1},{"t":1997.5,"s":"i","v":885.1},{"t":1997.75,"s":"i","v":947.3},{"t":1998.0,"s":"i","v":970.4},
  {"t":1998.25,"s":"i","v":1101.8},{"t":1998.5,"s":"i","v":1133.8},{"t":1998.67,"s":"i","v":957.3},{"t":1998.75,"s":"i","v":1017.0},{"t":1999.0,"s":"i","v":1229.2},
  {"t":1999.25,"s":"i","v":1286.4},{"t":1999.5,"s":"i","v":1372.7},{"t":1999.75,"s":"i","v":1282.7},{"t":2000.0,"s":"i","v":1469.3},
  {"t":2000.25,"s":"i","v":1498.6},{"t":2000.5,"s":"i","v":1454.6},{"t":2000.75,"s":"i","v":1436.5},{"t":2001.0,"s":"i","v":1320.3},
  {"t":2001.25,"s":"i","v":1160.3},{"t":2001.5,"s":"i","v":1224.4},{"t":2001.75,"s":"i","v":1040.9},{"t":2002.0,"s":"i","v":1148.1},
  {"t":2002.25,"s":"i","v":1147.4},{"t":2002.5,"s":"i","v":989.8},{"t":2002.75,"s":"i","v":815.3},{"t":2003.0,"s":"i","v":880.0},
  {"t":2003.25,"s":"i","v":848.2},{"t":2003.5,"s":"i","v":974.5},{"t":2003.75,"s":"i","v":996.0},{"t":2004.0,"s":"i","v":1111.9},
  {"t":2004.25,"s":"i","v":1126.2},{"t":2004.5,"s":"i","v":1140.8},{"t":2004.75,"s":"i","v":1114.6},{"t":2005.0,"s":"i","v":1211.9},
  {"t":2005.25,"s":"i","v":1180.6},{"t":2005.5,"s":"i","v":1191.3},{"t":2005.75,"s":"i","v":1228.8},{"t":2006.0,"s":"i","v":1248.3},
  {"t":2006.25,"s":"i","v":1294.8},{"t":2006.5,"s":"i","v":1270.2},{"t":2006.75,"s":"i","v":1335.9},{"t":2007.0,"s":"i","v":1418.3},
  {"t":2007.25,"s":"i","v":1420.9},{"t":2007.5,"s":"i","v":1503.4},{"t":2007.75,"s":"i","v":1526.8},{"t":2008.0,"s":"i","v":1468.4},
  {"t":2008.25,"s":"i","v":1322.7},{"t":2008.5,"s":"i","v":1280.0},{"t":2008.75,"s":"i","v":1166.4},{"t":2008.92,"s":"i","v":896.2},{"t":2009.0,"s":"i","v":903.3},
  {"t":2009.17,"s":"i","v":735.1},{"t":2009.25,"s":"i","v":797.9},{"t":2009.5,"s":"i","v":919.3},{"t":2009.75,"s":"i","v":1057.1},{"t":2010.0,"s":"i","v":1115.1},
  {"t":2010.25,"s":"i","v":1169.4},{"t":2010.5,"s":"i","v":1030.7},{"t":2010.75,"s":"i","v":1141.2},{"t":2011.0,"s":"i","v":1257.6},
  {"t":2011.25,"s":"i","v":1325.8},{"t":2011.5,"s":"i","v":1320.6},{"t":2011.75,"s":"i","v":1131.4},{"t":2012.0,"s":"i","v":1257.6},
  {"t":2012.25,"s":"i","v":1408.5},{"t":2012.5,"s":"i","v":1362.2},{"t":2012.75,"s":"i","v":1440.7},{"t":2013.0,"s":"i","v":1426.2},
  {"t":2013.25,"s":"i","v":1569.2},{"t":2013.5,"s":"i","v":1606.3},{"t":2013.75,"s":"i","v":1681.6},{"t":2014.0,"s":"i","v":1848.4},
  {"t":2014.25,"s":"i","v":1872.3},{"t":2014.5,"s":"i","v":1960.2},{"t":2014.75,"s":"i","v":1972.3},{"t":2015.0,"s":"i","v":2058.9},
  {"t":2015.25,"s":"i","v":2067.9},{"t":2015.5,"s":"i","v":2063.1},{"t":2015.75,"s":"i","v":1920.0},{"t":2016.0,"s":"i","v":2043.9},
  {"t":1926.25,"s":"n","v":20.2},{"t":1927.0,"s":"n","v":18.0},{"t":1928.0,"s":"n","v":16.4},{"t":1929.0,"s":"n","v":19.2},{"t":1929.67,"s":"n","v":22.7},{"t":1930.0,"s":"n","v":20.4},
  {"t":1931.0,"s":"n","v":18.0},{"t":1932.0,"s":"n","v":9.5},{"t":1932.5,"s":"n","v":9.6},{"t":1933.17,"s":"n","v":8.6},{"t":1933.58,"s":"n","v":8.1},{"t":1934.0,"s":"n","v":7.8},
  {"t":1935.0,"s":"n","v":9.7},{"t":1936.0,"s":"n","v":10.7},{"t":1937.0,"s":"n","v":14.3},{"t":1938.0,"s":"n","v":15.1},{"t":1939.0,"s":"n","v":12.0},{"t":1940.0,"s":"n","v":12.5},
  {"t":1941.0,"s":"n","v":16.3},{"t":1942.0,"s":"n","v":18.1},{"t":1943.0,"s":"n","v":16.9},{"t":1944.0,"s":"n","v":17.5},{"t":1945.0,"s":"n","v":16.6},{"t":1946.0,"s":"n","v":17.1},
  {"t":1947.0,"s":"n","v":21.3},{"t":1948.0,"s":"n","v":26.4},{"t":1949.0,"s":"n","v":28.1},{"t":1950.0,"s":"n","v":33.6},{"t":1951.0,"s":"n","v":40.0},{"t":1952.0,"s":"n","v":44.9},
  {"t":1953.0,"s":"n","v":44.3},{"t":1954.0,"s":"n","v":40.0},{"t":1955.0,"s":"n","v":46.2},{"t":1956.0,"s":"n","v":50.6},{"t":1957.0,"s":"n","v":54.3},{"t":1958.0,"s":"n","v":46.9},
  {"t":1959.0,"s":"n","v":46.8},{"t":1960.0,"s":"n","v":55.5},{"t":1961.0,"s":"n","v":49.2},{"t":1962.0,"s":"n","v":55.1},{"t":1963.0,"s":"n","v":57.4},{"t":1964.0,"s":"n","v":63.6},
  {"t":1965.0,"s":"n","v":68.4},{"t":1966.0,"s":"n","v":77.0},{"t":1967.0,"s":"n","v":73.0},{"t":1968.0,"s":"n","v":89.4},{"t":1969.0,"s":"n","v":85.2},{"t":1970.0,"s":"n","v":96.9},
  {"t":1971.0,"s":"n","v":90.4},{"t":1972.0,"s":"n","v":97.2},{"t":1973.0,"s":"n","v":106.4},{"t":1974.0,"s":"n","v":122},{"t":1975.0,"s":"n","v":118},{"t":1976.0,"s":"n","v":120},
  {"t":1977.0,"s":"n","v":158},{"t":1978.0,"s":"n","v":173},{"t":1979.0,"s":"n","v":178},{"t":1980.0,"s":"n","v":225},{"t":1981.0,"s":"n","v":234},{"t":1982.0,"s":"n","v":245},
  {"t":1983.0,"s":"n","v":201},{"t":1984.0,"s":"n","v":236},{"t":1985.0,"s":"n","v":232},{"t":1986.0,"s":"n","v":235},{"t":1987.0,"s":"n","v":224},{"t":1987.67,"s":"n","v":270},
  {"t":1988.0,"s":"n","v":309},{"t":1989.0,"s":"n","v":309},{"t":1990.0,"s":"n","v":372},{"t":1991.0,"s":"n","v":340},{"t":1992.0,"s":"n","v":386},{"t":1993.0,"s":"n","v":389},
  {"t":1994.0,"s":"n","v":424},{"t":1995.0,"s":"n","v":450},{"t":1996.0,"s":"n","v":513},{"t":1997.0,"s":"n","v":537},{"t":1998.0,"s":"n","v":626},{"t":1999.0,"s":"n","v":664},
  {"t":1999.25,"s":"n","v":670},{"t":2000.0,"s":"n","v":794},{"t":2000.5,"s":"n","v":774},{"t":2001.0,"s":"n","v":825},{"t":2001.5,"s":"n","v":790},{"t":2002.25,"s":"n","v":683},
  {"t":2002.75,"s":"n","v":668},{"t":2003.0,"s":"n","v":721},{"t":2004.0,"s":"n","v":794},{"t":2005.0,"s":"n","v":898},{"t":2006.0,"s":"n","v":946},{"t":2007.0,"s":"n","v":1051},
  {"t":2007.5,"s":"n","v":1074},{"t":2008.0,"s":"n","v":1204},{"t":2008.5,"s":"n","v":1113},{"t":2009.0,"s":"n","v":1026},{"t":2009.17,"s":"n","v":942},{"t":2009.5,"s":"n","v":800},
  {"t":2010.0,"s":"n","v":785},{"t":2010.5,"s":"n","v":873},{"t":2011.0,"s":"n","v":1094},{"t":2012.0,"s":"n","v":1164},{"t":2013.0,"s":"n","v":1209},{"t":2014.0,"s":"n","v":1422},
  {"t":2015.0,"s":"n","v":1492},{"t":2016.0,"s":"n","v":1504.4}
 ]
}
}
